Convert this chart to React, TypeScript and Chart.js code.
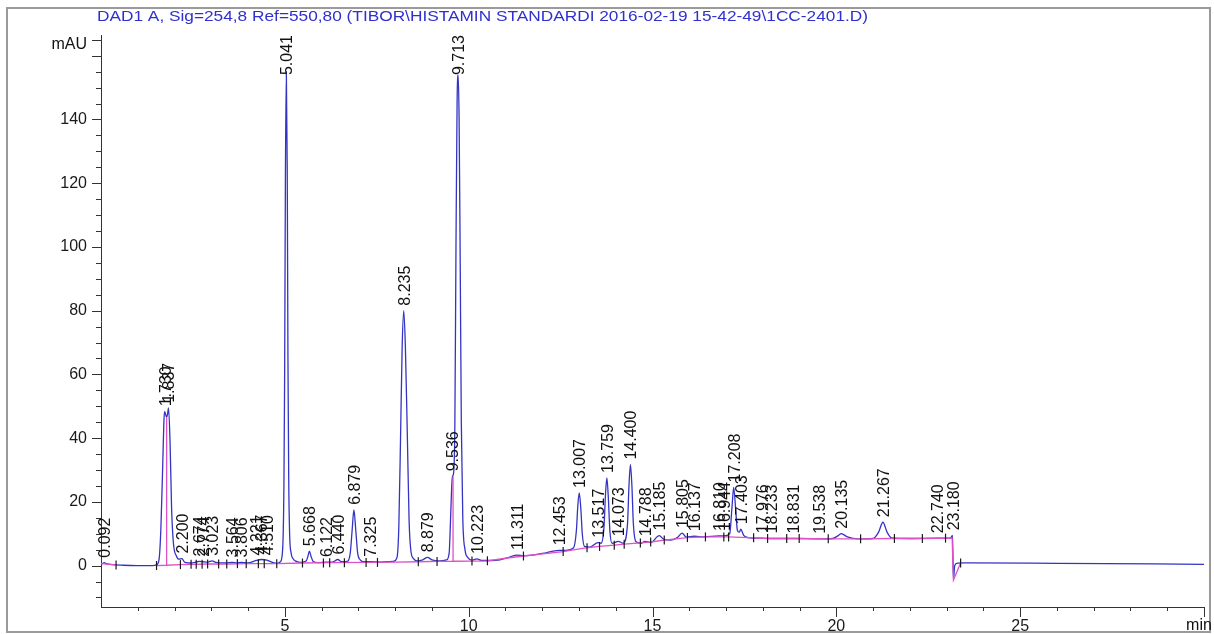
import { useRef, useEffect } from 'react';
import { Chart, registerables } from 'chart.js';

Chart.register(...registerables);

const TITLE = 'DAD1 A, Sig=254,8 Ref=550,80 (TIBOR\\HISTAMIN STANDARDI 2016-02-19 15-42-49\\1CC-2401.D)';

// detector signal (min, mAU)
const traceTime = [
  0.0, 0.05, 0.09, 0.15, 0.3, 0.6, 1.0, 1.4, 1.52, 1.58, 1.63, 1.68, 1.71, 1.73, 1.785, 1.81, 1.837, 1.88,
  1.92, 1.97, 2.05, 2.12, 2.2, 2.28, 2.45, 2.62, 2.674, 2.774, 2.9, 3.023, 3.12, 3.4, 3.564, 3.7, 3.806, 4.0,
  4.221, 4.367, 4.51, 4.68, 4.8, 4.88, 4.94, 4.975, 4.995, 5.015, 5.041, 5.065, 5.085, 5.105, 5.13, 5.17,
  5.22, 5.3, 5.45, 5.58, 5.63, 5.668, 5.71, 5.77, 5.9, 6.122, 6.3, 6.44, 6.55, 6.7, 6.78, 6.83, 6.879, 6.93,
  6.98, 7.05, 7.15, 7.325, 7.6, 7.95, 8.05, 8.1, 8.15, 8.19, 8.235, 8.28, 8.33, 8.38, 8.43, 8.5, 8.6, 8.75,
  8.879, 9.0, 9.2, 9.4, 9.47, 9.5, 9.536, 9.56, 9.59, 9.625, 9.655, 9.685, 9.713, 9.74, 9.77, 9.8, 9.84, 9.9,
  9.98, 10.08, 10.223, 10.35, 10.6, 10.85, 11.1, 11.311, 11.5, 12.0, 12.453, 12.65, 12.85, 12.93, 12.97,
  13.007, 13.05, 13.09, 13.15, 13.3, 13.517, 13.6, 13.68, 13.72, 13.759, 13.8, 13.84, 13.9, 14.073, 14.2,
  14.32, 14.36, 14.4, 14.44, 14.48, 14.55, 14.7, 14.788, 14.95, 15.185, 15.3, 15.5, 15.68, 15.805, 15.92,
  16.137, 16.4, 16.81, 16.944, 17.1, 17.16, 17.208, 17.26, 17.31, 17.36, 17.403, 17.48, 17.6, 17.976, 18.233,
  18.831, 19.538, 19.9, 20.05, 20.135, 20.3, 20.6, 21.0, 21.15, 21.267, 21.38, 21.5, 22.0, 22.74, 23.1, 23.16,
  23.185, 23.22, 23.3, 23.5, 26.0, 30.0,
];
const traceSignal = [
  0.6, 0.7, 0.9, 0.6, 0.3, 0.1, 0.0, 0.0, 0.3, 2, 12, 32, 45, 48.4, 46.5, 47.5, 49.5, 38,
  18, 7, 3, 2.0, 2.2, 1.0, 0.8, 1.2, 1.3, 1.2, 1.1, 1.5, 1.0, 0.8, 1.0, 0.8, 1.0, 0.8,
  1.6, 1.9, 1.7, 0.9, 0.7, 1.2, 5, 25, 60, 120, 155, 125, 65, 28, 10, 4,
  2.2, 1.4, 1.0, 1.4, 3.0, 4.5, 3.0, 1.3, 0.9, 1.1, 1.1, 1.9, 1.2, 1.3, 4, 11, 17.5, 11,
  4, 1.8, 1.2, 1.2, 1.1, 1.3, 2.5, 12, 42, 68, 80, 68, 42, 14, 4.5, 2.2, 1.5, 1.8,
  2.6, 1.8, 1.5, 1.8, 4, 12, 24, 28, 29, 45, 100, 145, 154, 140, 95, 45, 15, 5,
  2.5, 1.7, 2.1, 1.6, 1.6, 1.8, 2.6, 3.3, 3.1, 3.8, 4.8, 4.8, 5.5, 11, 19,
  22.8, 18, 10, 6, 5.8, 7.2, 7.0, 12, 22, 27.5, 21, 11, 7, 7.6, 7.0,
  13, 25, 31.7, 25, 13, 7.5, 7.0, 7.6, 7.2, 9.4, 8.3, 8.0, 8.8, 10.2, 8.9,
  9.2, 9.0, 9.3, 9.3, 10, 18, 24.5, 18, 11, 10.5, 11.4, 9.5, 8.8, 8.6, 8.5,
  8.5, 8.4, 8.5, 9.4, 10.0, 9.0, 8.4, 8.5, 10.5, 13.6, 10.5, 8.7, 8.5, 8.6, 8.6, 9.5,
  -4.5, 0.0, 0.8, 0.85, 0.7, 0.4,
];

// integration baseline incl. drop lines, null = gap
const baselineTime = [
  0.0, 0.41, 0.8, 1.51, 1.785, 1.785, 1.785, 2.16, 2.45, 2.9, 3.42, 3.95, 4.78, 5.48, 6.22, 7.21, 8.0, 8.63, 9.14,
  9.575, 9.575, 9.575, 10.09, 10.51, 11.0, 11.49, 12.57, 13.22, 13.56, 13.96, 14.23, 14.67, 14.95, 15.32, 15.95,
  16.44, 17.07, 17.75, 18.13, 18.99, 19.78, 20.66, 21.58, 22.34, 23.15, 23.185, 23.38,
];
const baselineSignal = [
  0.6, 0.2, null, 0.0, 0.1, 46.5, 0.1, 0.3, 0.4, 0.5, 0.5, 0.6, 0.6, 0.8, 0.9, 1.0, 1.1, 1.2, 1.3,
  1.35, 28, 1.35, 1.4, 1.5, 2.3, 3.0, 4.4, 5.6, 6.0, 6.4, 6.7, 7.1, 7.4, 8.0, 8.8,
  9.0, 9.0, 8.7, 8.5, 8.5, 8.4, 8.4, 8.5, 8.5, 8.6, -4.5, 0.8,
];

// peak start / end markers
const markTime = [
  0.41, 1.51, 2.16, 2.45, 2.59, 2.75, 2.9, 3.2, 3.42, 3.71, 3.95, 4.28, 4.44, 4.78, 5.48, 6.05, 6.22, 6.62,
  7.21, 7.52, 8.63, 9.14, 10.09, 10.51, 11.49, 12.57, 13.22, 13.56, 13.96, 14.23, 14.67, 14.95, 15.32, 15.95,
  16.44, 16.94, 17.07, 17.75, 18.13, 18.65, 18.99, 19.78, 20.66, 21.58, 22.34, 22.97, 23.38,
];
const markSignal = [
  0.2, 0.0, 0.3, 0.4, 0.4, 0.4, 0.5, 0.5, 0.5, 0.6, 0.6, 0.6, 0.6, 0.6, 0.8, 0.8, 0.9, 0.9,
  1.0, 1.0, 1.2, 1.3, 1.4, 1.5, 3.0, 4.4, 5.6, 6.0, 6.4, 6.7, 7.1, 7.4, 8.0, 8.8,
  9.0, 9.0, 9.0, 8.7, 8.5, 8.5, 8.5, 8.4, 8.4, 8.5, 8.5, 8.6, 0.8,
];

const peakLabels = [
  '0.092', '1.730', '1.837', '2.200', '2.674', '2.774', '3.023', '3.564', '3.806', '4.221', '4.367', '4.510',
  '5.041', '5.668', '6.122', '6.440', '6.879', '7.325', '8.235', '8.879', '9.536', '9.713', '10.223', '11.311',
  '12.453', '13.007', '13.517', '13.759', '14.073', '14.400', '14.788', '15.185', '15.805', '16.137', '16.810',
  '16.944', '17.208', '17.403', '17.976', '18.233', '18.831', '19.538', '20.135', '21.267', '22.740', '23.180',
];
const peakHeights = [
  0.9, 48.4, 49.5, 2.2, 1.3, 1.2, 1.5, 1.0, 1.0, 1.6, 1.9, 1.7,
  155, 4.5, 1.1, 1.9, 17.5, 1.2, 80, 2.6, 28, 154, 2.1, 3.3,
  4.8, 22.8, 7.2, 27.5, 7.6, 31.7, 7.6, 9.4, 10.2, 9.2, 9.3,
  9.3, 24.5, 11.4, 8.6, 8.5, 8.5, 8.4, 10.0, 13.6, 8.6, 9.5,
];

const xLabelValues = [5, 10, 15, 20, 25];
const yLabelValues = [0, 20, 40, 60, 80, 100, 120, 140];
const yUnitLabel = 'mAU';
const xUnitLabel = 'min';

const FONT = '"Liberation Sans", Arial, sans-serif';

const chromPlugin = {
  id: 'chrom',
  beforeDraw(chart: Chart) {
    const ctx = chart.ctx;
    ctx.save();
    ctx.fillStyle = '#fff';
    ctx.fillRect(0, 0, chart.width, chart.height);
    ctx.strokeStyle = '#9a9a9a';
    ctx.lineWidth = 2;
    ctx.strokeRect(7, 8, 1203, 624);
    ctx.restore();
  },
  afterDraw(chart: Chart) {
    const ctx = chart.ctx;
    const area = chart.chartArea;
    const xs = chart.scales.x;
    const ys = chart.scales.y;
    ctx.save();

    // axis tick marks
    ctx.strokeStyle = '#333';
    ctx.lineWidth = 1;
    ctx.beginPath();
    for (const t of xs.ticks) {
      if (t.value <= 0) continue;
      const px = Math.round(xs.getPixelForValue(t.value)) + 0.5;
      const len = t.value % 5 === 0 ? 10 : 4;
      ctx.moveTo(px, area.bottom);
      ctx.lineTo(px, area.bottom + len);
    }
    for (const t of ys.ticks) {
      const py = Math.round(ys.getPixelForValue(t.value)) + 0.5;
      const len = t.value % 20 === 0 || t.value === 165 ? 9 : 5;
      ctx.moveTo(area.left, py);
      ctx.lineTo(area.left - len, py);
    }
    ctx.stroke();

    // peak labels
    ctx.fillStyle = '#111';
    ctx.font = '16px ' + FONT;
    ctx.textAlign = 'left';
    ctx.textBaseline = 'middle';
    peakLabels.forEach((label, i) => {
      const px = xs.getPixelForValue(Number(label));
      const py = ys.getPixelForValue(peakHeights[i]);
      const w = ctx.measureText(label).width;
      const start = Math.max(py - 5, area.top + w);
      ctx.save();
      ctx.translate(px + 1.5, start);
      ctx.rotate(-Math.PI / 2);
      ctx.fillText(label, 0, 0);
      ctx.restore();
    });

    // y unit, x unit
    ctx.textAlign = 'right';
    ctx.fillText(yUnitLabel, area.left - 14, 45);
    ctx.textAlign = 'center';
    ctx.fillText(xUnitLabel, 1199, 626);

    // title, stretched to the width it has in the original
    ctx.fillStyle = '#3030cf';
    ctx.font = '15px ' + FONT;
    ctx.textAlign = 'left';
    const tw = ctx.measureText(TITLE).width;
    ctx.translate(97, 17);
    ctx.scale(771 / tw, 1);
    ctx.fillText(TITLE, 0, 0);
    ctx.restore();
  },
};

export default function App() {
  const canvasRef = useRef<HTMLCanvasElement>(null);
  const chartRef = useRef<Chart | null>(null);

  useEffect(() => {
    if (!canvasRef.current) return;
    chartRef.current?.destroy();

    chartRef.current = new Chart(canvasRef.current, {
      type: 'line',
      data: {
        datasets: [
          {
            data: traceTime.map((t, i) => ({ x: t, y: traceSignal[i] })),
            borderColor: '#3434c4',
            borderWidth: 1.3,
            pointRadius: 0,
            cubicInterpolationMode: 'monotone',
            order: 2,
          },
          {
            data: baselineTime.map((t, i) => ({ x: t, y: baselineSignal[i] })),
            borderColor: '#e050c8',
            borderWidth: 1.3,
            pointRadius: 0,
            tension: 0,
            spanGaps: false,
            order: 1,
          },
          {
            data: markTime.map((t, i) => ({ x: t, y: markSignal[i] })),
            showLine: false,
            pointStyle: 'line',
            rotation: 90,
            pointRadius: 4.5,
            borderColor: '#1a1a1a',
            borderWidth: 1.2,
            order: 0,
          },
        ],
      },
      options: {
        responsive: false,
        maintainAspectRatio: false,
        animation: false,
        layout: { padding: { top: 35, right: 4, left: 0, bottom: 0 } },
        plugins: { legend: { display: false }, tooltip: { enabled: false }, title: { display: false } },
        scales: {
          x: {
            type: 'linear',
            min: 0,
            max: 30,
            grid: { display: false, drawTicks: false },
            border: { display: true, color: '#333', width: 1 },
            afterBuildTicks: (scale: any) => {
              scale.ticks = Array.from({ length: 31 }, (_, i) => ({ value: i }));
            },
            afterFit: (scale: any) => {
              scale.height = 27;
            },
            ticks: {
              autoSkip: false,
              maxRotation: 0,
              padding: 10,
              color: '#1a1a1a',
              font: { family: FONT, size: 16 },
              callback: (v: any) => (xLabelValues.includes(Number(v)) ? String(v) : ''),
            },
          },
          y: {
            type: 'linear',
            min: -13,
            max: 166.5,
            grid: { display: false, drawTicks: false },
            border: { display: true, color: '#333', width: 1 },
            afterBuildTicks: (scale: any) => {
              scale.ticks = Array.from({ length: 36 }, (_, i) => ({ value: -10 + i * 5 }));
            },
            afterFit: (scale: any) => {
              scale.width = 101;
            },
            ticks: {
              autoSkip: false,
              padding: 14,
              color: '#1a1a1a',
              font: { family: FONT, size: 16 },
              callback: (v: any) => {
                const n = Number(v);
                return yLabelValues.includes(n) ? String(n) : '';
              },
            },
          },
        },
      },
      plugins: [chromPlugin],
    });

    return () => {
      chartRef.current?.destroy();
      chartRef.current = null;
    };
  }, []);

  return (
    <div style={{ position: 'fixed', left: 0, top: 0, width: 1214, height: 634, background: '#fff' }}>
      <canvas ref={canvasRef} width={1214} height={634} />
    </div>
  );
}
